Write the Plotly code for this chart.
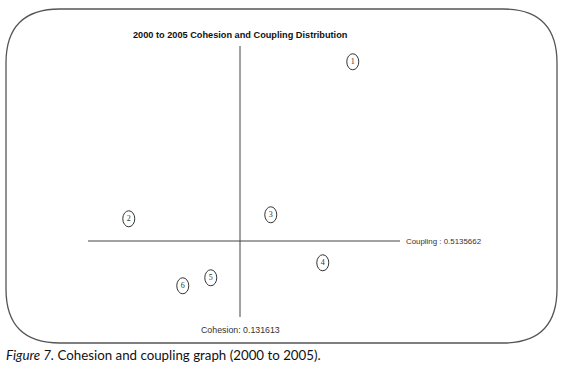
import plotly.graph_objects as go

# Data
labels = ["1", "2", "3", "4", "5", "6"]
cohesion = [0.188, 0.076, 0.147, 0.173, 0.117, 0.103]
coupling = [0.872, 0.558, 0.566, 0.470, 0.440, 0.424]
cohesion_mean = 0.131613
coupling_mean = 0.5135662
title = "2000 to 2005 Cohesion and Coupling Distribution"
caption_fig = "Figure 7."
caption_rest = " Cohesion and coupling graph (2000 to 2005)."

W, H = 565, 366
L, R, T, B = 88, 400, 46, 317  # plot area in pixels
xr = [0.055613, 0.211613]
yr = [0.3615662, 0.9035662]

fig = go.Figure()
fig.add_trace(go.Scatter(
    x=cohesion, y=coupling, mode="text", text=labels,
    textfont=dict(family="Liberation Serif", size=8, color="#333"),
    textposition="middle center", hoverinfo="skip", showlegend=False))

shapes = []
# axes through the means
shapes.append(dict(type="line", xref="x", yref="y", x0=cohesion_mean, x1=cohesion_mean,
                   y0=yr[0], y1=yr[1], line=dict(color="#444", width=1)))
shapes.append(dict(type="line", xref="x", yref="y", x0=xr[0], x1=xr[1],
                   y0=coupling_mean, y1=coupling_mean, line=dict(color="#444", width=1)))
# ovals around point numbers
for cx, cy in zip(cohesion, coupling):
    shapes.append(dict(type="circle", xref="x", yref="y", xsizemode="pixel", ysizemode="pixel",
                       xanchor=cx, yanchor=cy, x0=-6, x1=6, y0=-8, y1=8,
                       line=dict(color="#333", width=1)))

# rounded frame (pixel -> paper)
def px(p):
    return (p - L) / (R - L)
def py(q):
    return (B - q) / (B - T)
x0f, x1f, y0f, y1f, r = 6, 557, 9, 343, 54
pts = [
    ("M", [(x0f + r, y0f)]),
    ("L", [(x1f - r, y0f)]),
    ("Q", [(x1f, y0f), (x1f, y0f + r)]),
    ("L", [(x1f, y1f - r)]),
    ("Q", [(x1f, y1f), (x1f - r, y1f)]),
    ("L", [(x0f + r, y1f)]),
    ("Q", [(x0f, y1f), (x0f, y1f - r)]),
    ("L", [(x0f, y0f + r)]),
    ("Q", [(x0f, y0f), (x0f + r, y0f)]),
]
path = " ".join(cmd + " " + " ".join(f"{px(a):.5f},{py(b):.5f}" for a, b in ps) for cmd, ps in pts) + " Z"
shapes.append(dict(type="path", xref="paper", yref="paper", path=path,
                   line=dict(color="#555", width=1.3), layer="below"))

annotations = [
    dict(text=title, xref="paper", yref="paper", x=px(240), y=py(35), showarrow=False,
         xanchor="center", yanchor="middle",
         font=dict(family="Liberation Sans", size=9.2, color="#111", weight="bold")),
    dict(text="Coupling : 0.5135662", xref="paper", yref="y", x=px(404), y=coupling_mean,
         showarrow=False, xanchor="left", yanchor="middle",
         font=dict(family="Liberation Sans", size=7.9, color="#333")),
    dict(text="Cohesion: 0.131613", xref="x", yref="paper", x=cohesion_mean, y=py(330),
         showarrow=False, xanchor="center", yanchor="middle",
         font=dict(family="Liberation Sans", size=8.8, color="#333")),
    dict(text=f"<i>{caption_fig}</i>{caption_rest}", xref="paper", yref="paper",
         x=px(4), y=py(355), showarrow=False, xanchor="left", yanchor="middle",
         font=dict(family="Lato", size=13.3, color="#111")),
]

fig.update_layout(
    width=W, height=H,
    margin=dict(l=L, r=W - R, t=T, b=H - B, pad=0),
    paper_bgcolor="white", plot_bgcolor="white",
    xaxis=dict(range=xr, visible=False, fixedrange=True),
    yaxis=dict(range=yr, visible=False, fixedrange=True),
    shapes=shapes, annotations=annotations, showlegend=False,
)
fig.write_html("out.html", config={"displayModeBar": False},
               post_script="document.body.style.margin='0';document.body.style.overflow='hidden';")
